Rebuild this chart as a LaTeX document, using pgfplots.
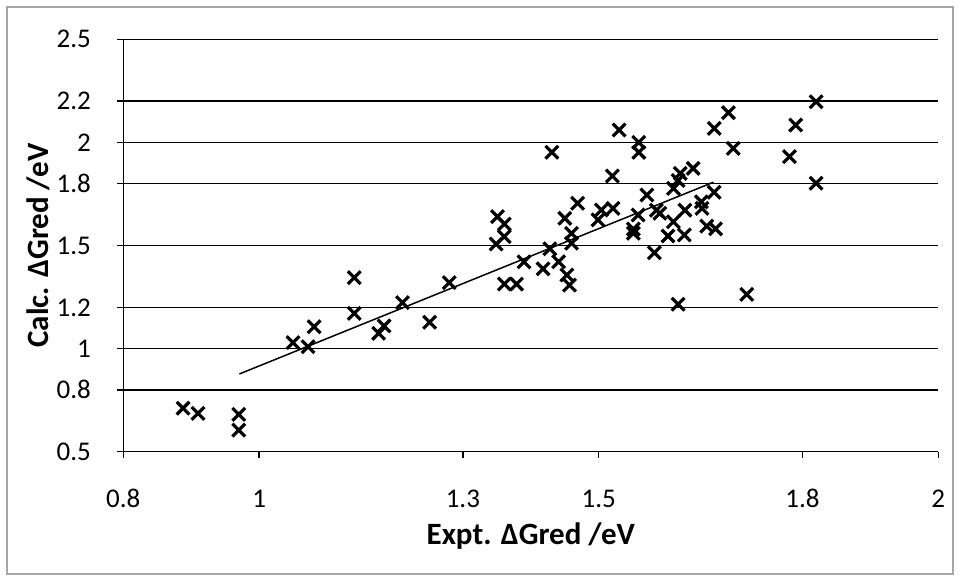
\documentclass[border=0pt]{standalone}
\usepackage{fontspec}
\setmainfont{Carlito}
\usepackage{pgfplots}
\pgfplotsset{compat=1.18}
\begin{document}
\begin{tikzpicture}
\useasboundingbox (0,0) rectangle (480pt,290.5pt);
\draw[gray!70, line width=0.75pt] (3.5pt,3.5pt) rectangle (476.5pt,287pt);
\begin{axis}[
  at={(61.65pt,64.65pt)}, anchor=south west,
  scale only axis, width=407.5pt, height=206.2pt,
  xmin=0.8, xmax=2.0, ymin=0.5, ymax=2.5,
  xtick={0.8,1,1.3,1.5,1.8,2}, xticklabels={0.8,1,1.3,1.5,1.8,2},
  ytick={0.5,0.8,1,1.2,1.5,1.8,2,2.2,2.5},
  yticklabels={0.5,0.8,1,1.2,1.5,1.8,2,2.2,2.5},
  axis x line*=bottom, axis y line*=left,
  x axis line style={-}, y axis line style={-},
  axis line style={black, line width=0.75pt},
  ymajorgrids, grid style={black, line width=0.75pt},
  tick align=outside, major tick length=3pt,
  tick style={black, line width=0.75pt},
  /pgf/number format/assume math mode=true,
  ticklabel style={font=\fontsize{13.5}{16}\selectfont, inner sep=0pt},
  xticklabel style={anchor=center, yshift=-20.5pt},
  yticklabel style={anchor=east, xshift=-13pt},
  label style={font=\bfseries\fontsize{15.5}{18}\selectfont},
  xlabel={Expt. ΔGred /eV},
  ylabel={Calc. ΔGred /eV},
  xlabel style={at={(axis description cs:0.5,-0.2255)}, anchor=base},
  ylabel style={at={(axis description cs:-0.1043,0.5)}, anchor=center},
  clip=false,
]
\addplot[only marks, mark=x, mark size=4.5pt, mark options={line width=1.6pt, black}] coordinates {
(0.888,0.711) (0.910,0.686) (0.970,0.681) (0.970,0.605)
(1.050,1.029) (1.072,1.009) (1.081,1.106) (1.140,1.344)
(1.140,1.171) (1.176,1.074) (1.184,1.110) (1.211,1.223)
(1.251,1.128) (1.280,1.320) (1.351,1.640) (1.361,1.604)
(1.361,1.543) (1.349,1.507) (1.428,1.484) (1.390,1.421)
(1.418,1.387) (1.361,1.313) (1.379,1.313) (1.431,1.952)
(1.530,2.060) (1.559,2.000) (1.559,1.952) (1.670,2.068)
(1.698,1.971) (1.691,2.144) (1.820,2.197) (1.790,2.084)
(1.781,1.931) (1.820,1.802) (1.718,1.263) (1.617,1.215)
(1.520,1.837) (1.620,1.850) (1.639,1.874) (1.610,1.777)
(1.617,1.815) (1.670,1.758) (1.571,1.745) (1.469,1.705)
(1.450,1.632) (1.504,1.672) (1.521,1.680) (1.499,1.624)
(1.558,1.648) (1.585,1.671) (1.590,1.656) (1.627,1.671)
(1.651,1.712) (1.652,1.680) (1.610,1.615) (1.659,1.594)
(1.672,1.581) (1.551,1.559) (1.551,1.580) (1.602,1.546)
(1.626,1.551) (1.582,1.465) (1.460,1.559) (1.460,1.511)
(1.441,1.421) (1.453,1.357) (1.457,1.308)
};
\addplot[black, line width=0.75pt, no marks] coordinates {(0.971,0.877) (1.669,1.807)};
\end{axis}
\end{tikzpicture}
\end{document}
